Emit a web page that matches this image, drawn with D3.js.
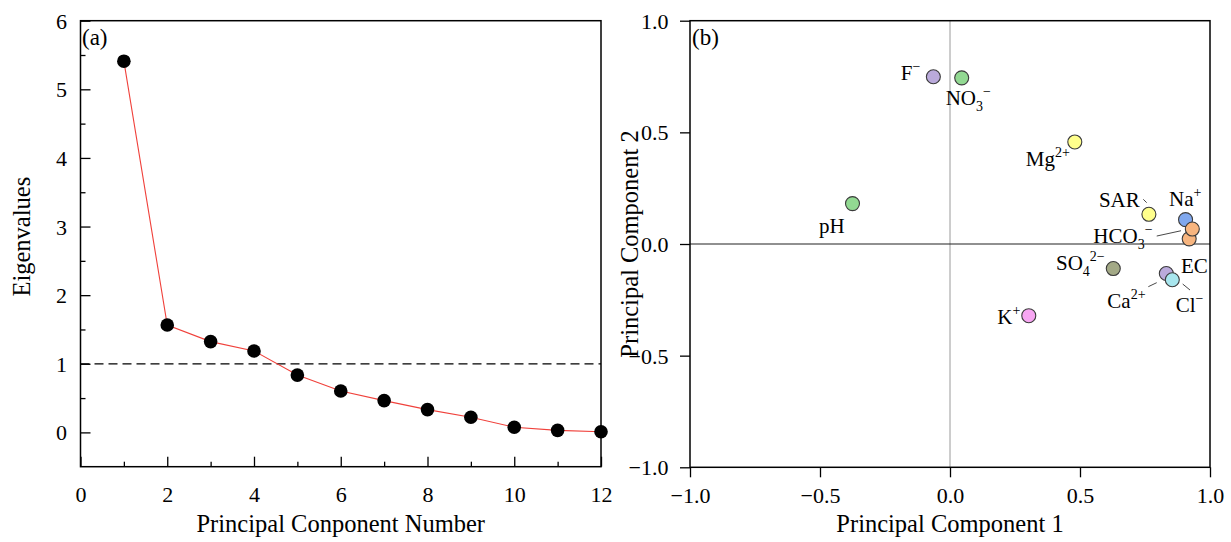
<!DOCTYPE html>
<html><head><meta charset="utf-8">
<script src="https://cdn.jsdelivr.net/npm/d3@7"></script>
<style>
body{margin:0;background:#fff}
text{font-family:"Liberation Serif","Times New Roman",serif;fill:#000}
</style>
</head><body><svg id="c" width="1231" height="542"></svg>
<script>
// ---- data ----
const components = [1,2,3,4,5,6,7,8,9,10,11,12];
const eigenvalues = [5.41,1.565,1.323,1.187,0.835,0.604,0.463,0.332,0.221,0.075,0.03,0.01];
const kaiserThreshold = 1;
const screeXTicks = [0,2,4,6,8,10,12];
const screeXMinor = [1,3,5,7,9,11];
const screeYTicks = [0,1,2,3,4,5,6];
const screeYMinor = [0.5,1.5,2.5,3.5,4.5,5.5];

const variables = ["pH","EC","F^−","NO_3^−","Mg^2+","SAR","Na^+","HCO_3^−","SO_4^2−","Ca^2+","Cl^−","K^+"];
const pc1 = [-0.375,0.920,-0.064,0.045,0.480,0.765,0.906,0.932,0.628,0.832,0.855,0.303];
const pc2 = [0.181,0.023,0.749,0.744,0.457,0.133,0.109,0.067,-0.110,-0.132,-0.160,-0.321];
const loadingTicks = [-1,-0.5,0,0.5,1];

// ---- styles / layout ----
const colors = {"pH":"#92d992","EC":"#f7b57f","F^−":"#baaadb","NO_3^−":"#92d992","Mg^2+":"#ffff8c",
  "SAR":"#ffff8c","Na^+":"#80a8ee","HCO_3^−":"#f7b57f","SO_4^2−":"#a3a986","Ca^2+":"#baaadb",
  "Cl^−":"#a8e6ee","K^+":"#f7a6f2"};
// label offsets relative to the point: [dx, dy, anchor]
const labelPos = {"pH":[-33.5,29.7,"start"],"EC":[-8.2,34,"start"],"F^−":[-13,3.5,"end"],
  "NO_3^−":[-16,27,"start"],"Mg^2+":[-49,24,"start"],"SAR":[-50,-7.6,"start"],"Na^+":[-16.5,-13.6,"start"],
  "HCO_3^−":[-99,13.7,"start"],"SO_4^2−":[-57.3,1.5,"start"],"Ca^2+":[-59,34.8,"start"],
  "Cl^−":[3.4,32,"start"],"K^+":[-31.5,8,"start"]};
const leaders = {"SAR":[-5.6,-15,-2.2,-11.6],"HCO_3^−":[-35.6,7,-11.3,1.7],
  "Ca^2+":[-18,13.2,-9.6,9.2],"Cl^−":[10.4,4.3,17.7,10.3]};

const svg = d3.select("#c");
const FONT = '"Liberation Serif","Times New Roman",serif';

function richText(sel, s){
  const re = /([_^]?)([^_^]+)/g; let m, cur = 0;
  while((m = re.exec(s))){
    const kind = m[1], t = m[2];
    const target = kind==="_" ? 6 : kind==="^" ? -9 : 0;
    const ts = sel.append("tspan").text(t).attr("dy", target-cur);
    if(kind) ts.attr("font-size", 14);
    cur = target;
  }
}

// ================= Panel (a) =================
const xL = d3.scaleLinear().domain([0,12]).range([80.5,601]);
const yL = d3.scaleLinear().domain([-0.5,6]).range([466.7,20.7]);
const gA = svg.append("g");

// axes (inward ticks)
const axXa = gA.append("g").attr("transform",`translate(0,${yL(-0.5)})`)
  .call(d3.axisBottom(xL).tickValues(screeXTicks).tickSize(-10).tickSizeOuter(0).tickFormat(d3.format("d")));
gA.append("g").attr("transform",`translate(0,${yL(-0.5)})`)
  .call(d3.axisBottom(xL).tickValues(screeXMinor).tickSize(-5).tickSizeOuter(0).tickFormat(""));
const axYa = gA.append("g").attr("transform",`translate(${xL(0)},0)`)
  .call(d3.axisLeft(yL).tickValues(screeYTicks).tickSize(-10).tickSizeOuter(0).tickFormat(d3.format("d")));
gA.append("g").attr("transform",`translate(${xL(0)},0)`)
  .call(d3.axisLeft(yL).tickValues(screeYMinor).tickSize(-5).tickSizeOuter(0).tickFormat(""));
axXa.selectAll("text").attr("y",35).attr("dy",null);
axYa.selectAll("text").attr("x",-13.5).attr("dy","0.34em");

// threshold
gA.append("line").attr("x1",xL(0)).attr("x2",xL(12)).attr("y1",yL(kaiserThreshold)).attr("y2",yL(kaiserThreshold))
  .attr("stroke","#000").attr("stroke-width",1.3).attr("stroke-dasharray","9,5");

// line + points
const line = d3.line().x((d,i)=>xL(components[i])).y(d=>yL(d));
gA.append("path").datum(eigenvalues).attr("d",line).attr("fill","none").attr("stroke","#f0413b").attr("stroke-width",1.1);
gA.selectAll("circle.pt").data(eigenvalues).join("circle").attr("class","pt")
  .attr("cx",(d,i)=>xL(components[i])).attr("cy",d=>yL(d)).attr("r",6.8).attr("fill","#000");

// frame
gA.append("rect").attr("x",xL(0)).attr("y",yL(6)).attr("width",xL(12)-xL(0)).attr("height",yL(-0.5)-yL(6))
  .attr("fill","none").attr("stroke","#000").attr("stroke-width",1.5);

gA.append("text").attr("x",82).attr("y",45).attr("font-size",23).text("(a)");
gA.append("text").attr("x",(xL(0)+xL(12))/2).attr("y",532).attr("text-anchor","middle").attr("font-size",24.5)
  .text("Principal Conponent Number");
gA.append("text").attr("transform",`translate(30,${(yL(6)+yL(-0.5))/2 - 7}) rotate(-90)`).attr("text-anchor","middle")
  .attr("font-size",24.5).text("Eigenvalues");

// ================= Panel (b) =================
const xR = d3.scaleLinear().domain([-1,1]).range([690,1210]);
const yR = d3.scaleLinear().domain([-1,1]).range([467.3,20.7]);
const gB = svg.append("g");
const fmt = d3.format(".1f");

const axXb = gB.append("g").attr("transform",`translate(0,${yR(-1)})`)
  .call(d3.axisBottom(xR).tickValues(loadingTicks).tickSize(10).tickSizeOuter(0).tickFormat(fmt));
const axYb = gB.append("g").attr("transform",`translate(${xR(-1)},0)`)
  .call(d3.axisLeft(yR).tickValues(loadingTicks).tickSize(10).tickSizeOuter(0).tickFormat(fmt));
axXb.selectAll("text").attr("y",35.7).attr("dy",null);
axYb.selectAll("text").attr("x",-21.5).attr("dy","0.34em");

// zero lines
gB.append("line").attr("x1",xR(0)).attr("x2",xR(0)).attr("y1",yR(1)).attr("y2",yR(-1)).attr("stroke","#9a9a9a").attr("stroke-width",1);
gB.append("line").attr("x1",xR(-1)).attr("x2",xR(1)).attr("y1",yR(0)).attr("y2",yR(0)).attr("stroke","#222").attr("stroke-width",1.2);

// leaders
Object.keys(leaders).forEach(k=>{
  const i = variables.indexOf(k), L = leaders[k];
  const px = xR(pc1[i]), py = yR(pc2[i]);
  gB.append("line").attr("x1",px+L[0]).attr("y1",py+L[1]).attr("x2",px+L[2]).attr("y2",py+L[3])
    .attr("stroke","#333").attr("stroke-width",0.9);
});

// points
gB.selectAll("circle.ld").data(variables).join("circle").attr("class","ld")
  .attr("cx",(d,i)=>xR(pc1[i])).attr("cy",(d,i)=>yR(pc2[i])).attr("r",7)
  .attr("fill",d=>colors[d]).attr("stroke","#3a3a3a").attr("stroke-width",1.1);

// labels
variables.forEach((v,i)=>{
  const p = labelPos[v];
  const t = gB.append("text").attr("x",xR(pc1[i])+p[0]).attr("y",yR(pc2[i])+p[1])
    .attr("text-anchor",p[2]).attr("font-size",21);
  richText(t, v);
});

gB.append("rect").attr("x",xR(-1)).attr("y",yR(1)).attr("width",xR(1)-xR(-1)).attr("height",yR(-1)-yR(1))
  .attr("fill","none").attr("stroke","#000").attr("stroke-width",1.5);

gB.append("text").attr("x",692).attr("y",45).attr("font-size",23).text("(b)");
gB.append("text").attr("x",xR(0)).attr("y",532).attr("text-anchor","middle").attr("font-size",24.5).text("Principal Component 1");
gB.append("text").attr("transform",`translate(638,${yR(0)}) rotate(-90)`).attr("text-anchor","middle")
  .attr("font-size",24.5).text("Principal Component 2");

// axis styling
svg.selectAll(".tick line").attr("stroke","#000").attr("stroke-width",1.3);
svg.selectAll(".domain").attr("stroke","none");
svg.selectAll(".tick text").attr("font-size",22).attr("font-family",FONT).attr("fill","#000");
</script>
</body></html>
